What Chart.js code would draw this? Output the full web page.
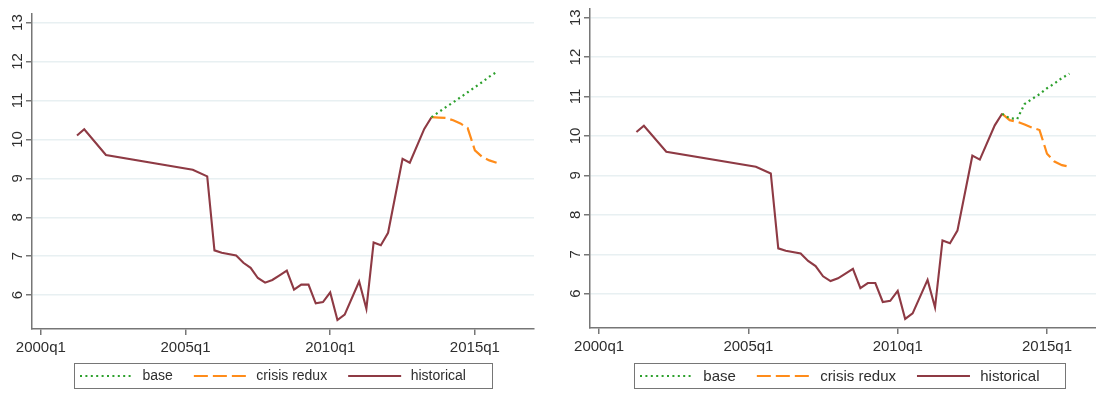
<!DOCTYPE html>
<html>
<head>
<meta charset="utf-8">
<script src="https://cdn.jsdelivr.net/npm/chart.js@4.4.1/dist/chart.umd.min.js"></script>
<style>
  html, body { margin: 0; padding: 0; background: #fff; }
  #wrap { position: relative; width: 1096px; height: 394px; overflow: hidden; }
  canvas { position: absolute; top: 0; }
  #panelA { left: 0; }
  #panelB { left: 548px; }
</style>
</head>
<body>
<div id="wrap">
  <canvas id="panelA" width="548" height="394"></canvas>
  <canvas id="panelB" width="562" height="394"></canvas>
</div>
<script>
// Quarters are counted from 2000q1 = 0.
const histQuarters = [5, 6, 9, 21, 23, 24, 25, 27, 28, 29, 30, 31, 32, 33, 34, 35, 36, 37, 38, 39, 40, 41, 42, 44, 45, 46, 47, 48, 50, 51, 53, 54];
const histValues   = [10.10, 10.26, 9.60, 9.22, 9.05, 7.15, 7.09, 7.02, 6.83, 6.70, 6.44, 6.32, 6.39, 6.51, 6.63, 6.14, 6.27, 6.27, 5.79, 5.82, 6.07, 5.36, 5.50, 6.35, 5.65, 7.35, 7.28, 7.60, 9.50, 9.40, 10.27, 10.57];

const projQuarters = [54, 55, 56, 57, 58, 59, 60, 61, 62, 63];
const baseA   = [10.57, 10.70, 10.83, 10.95, 11.08, 11.21, 11.34, 11.47, 11.61, 11.73];
const crisisA = [10.57, 10.56, 10.55, 10.49, 10.41, 10.29, 9.72, 9.55, 9.46, 9.40];
const baseB   = [10.56, 10.45, 10.43, 10.81, 10.94, 11.06, 11.21, 11.33, 11.47, 11.58];
const crisisB = [10.56, 10.40, 10.36, 10.29, 10.21, 10.15, 9.55, 9.35, 9.26, 9.22];

const xTickQuarters = [0, 20, 40, 60];
const xTickLabels   = ['2000q1', '2005q1', '2010q1', '2015q1'];
const yTicks        = [6, 7, 8, 9, 10, 11, 12, 13];
const seriesNames   = ['base', 'crisis redux', 'historical'];

const FONT = '"Liberation Sans", Arial, Helvetica, sans-serif';
const TEXT = '#2e2e2e';
const AXIS = '#767676';

function pairs(xs, ys) {
  return xs.map((x, i) => ({ x: x, y: ys[i] }));
}

// Boxed key under the plot, centred on the plotting area.
const keyBox = {
  id: 'keyBox',
  afterDraw(chart, args, opts) {
    const { ctx, chartArea } = chart;
    const sample = 53, lead = 6, trail = 26, itemGap = 21;
    ctx.save();
    ctx.font = opts.fontSize + 'px ' + FONT;
    const sets = chart.data.datasets;
    const widths = sets.map(d => ctx.measureText(d.label).width);
    let content = 0;
    widths.forEach((w, i) => { content += sample + opts.textGap + w + (i ? itemGap : 0); });
    const boxW = Math.round(lead + content + trail);
    const left = Math.round((chartArea.left + chartArea.right) / 2 - boxW / 2);
    const top = opts.top, h = opts.height;
    ctx.fillStyle = '#fff';
    ctx.fillRect(left, top, boxW, h);
    ctx.strokeStyle = AXIS;
    ctx.lineWidth = 1;
    ctx.strokeRect(left + 0.5, top + 0.5, boxW, h);
    const cy = top + h / 2 + 0.5;
    let x = left + lead;
    sets.forEach((d, i) => {
      ctx.save();
      ctx.strokeStyle = d.borderColor;
      ctx.lineWidth = d.borderWidth;
      ctx.setLineDash(d.borderDash || []);
      ctx.beginPath();
      ctx.moveTo(x, cy);
      ctx.lineTo(x + sample, cy);
      ctx.stroke();
      ctx.restore();
      ctx.fillStyle = TEXT;
      ctx.textBaseline = 'middle';
      ctx.textAlign = 'left';
      ctx.fillText(d.label, x + sample + opts.textGap, cy + 0.5);
      x += sample + opts.textGap + widths[i] + itemGap;
    });
    ctx.restore();
  }
};

function makePanel(id, base, crisis, cfg) {
  return new Chart(document.getElementById(id), {
    type: 'line',
    data: {
      datasets: [
        {
          label: seriesNames[0],
          data: pairs(projQuarters, base),
          borderColor: '#2ca02c',
          borderWidth: 2.2,
          borderDash: [2, 3.4],
          pointRadius: 0,
          tension: 0,
          fill: false
        },
        {
          label: seriesNames[1],
          data: pairs(projQuarters, crisis),
          borderColor: '#ff8c1a',
          borderWidth: 2.2,
          borderDash: [14, 5],
          pointRadius: 0,
          tension: 0,
          fill: false
        },
        {
          label: seriesNames[2],
          data: pairs(histQuarters, histValues),
          borderColor: '#8e3a44',
          borderWidth: 2.1,
          pointRadius: 0,
          tension: 0,
          fill: false
        }
      ]
    },
    options: {
      responsive: false,
      animation: false,
      devicePixelRatio: 1,
      layout: { padding: { left: 0, top: cfg.top, right: cfg.right, bottom: cfg.bottom } },
      plugins: {
        legend: { display: false },
        tooltip: { enabled: false },
        keyBox: { fontSize: cfg.keyFont, textGap: cfg.textGap, top: 363, height: 25 }
      },
      scales: {
        x: {
          type: 'linear',
          min: -1.22,
          max: 68.17,
          afterBuildTicks: s => { s.ticks = xTickQuarters.map(v => ({ value: v })); },
          afterFit: s => { s.height = 30; },
          ticks: {
            callback: (v, i) => xTickLabels[i],
            autoSkip: false,
            maxRotation: 0,
            padding: 4,
            color: TEXT,
            font: { family: FONT, size: cfg.tickFont }
          },
          grid: { drawOnChartArea: false, tickLength: 6, tickColor: AXIS, lineWidth: 1.5 },
          border: { color: AXIS, width: 1.5 }
        },
        y: {
          type: 'linear',
          min: 5.13,
          max: 13.22,
          afterBuildTicks: s => { s.ticks = yTicks.map(v => ({ value: v })); },
          afterFit: s => { s.width = cfg.yWidth; },
          ticks: {
            minRotation: 90,
            maxRotation: 90,
            crossAlign: 'center',
            padding: 0,
            color: TEXT,
            font: { family: FONT, size: cfg.tickFont }
          },
          grid: { color: '#e8f0f2', lineWidth: 1.5, tickLength: 6, tickColor: AXIS },
          border: { color: AXIS, width: 1.5 }
        }
      }
    },
    plugins: [keyBox]
  });
}

makePanel('panelA', baseA, crisisA, { top: 14, right: 14, bottom: 35, yWidth: 32, tickFont: 15, keyFont: 14, textGap: 9.5 });
makePanel('panelB', baseB, crisisB, { top: 5, right: 2, bottom: 36, yWidth: 42, tickFont: 15, keyFont: 15, textGap: 10.3 });
</script>
</body>
</html>
